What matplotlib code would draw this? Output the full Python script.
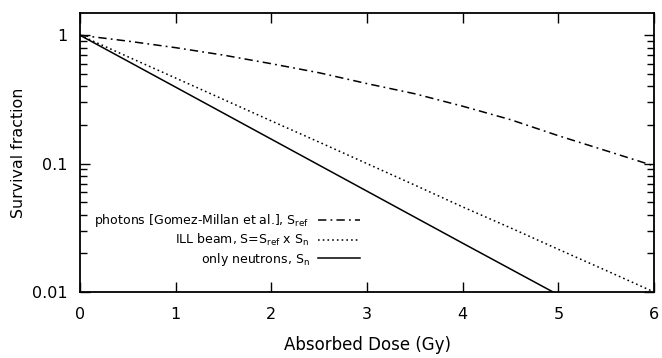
import numpy as np
import matplotlib.pyplot as plt
from matplotlib.ticker import FixedLocator, LogLocator, NullFormatter

# survival fractions read at each dose (Gy)
dose = [0, 0.5, 1, 1.5, 2, 2.5, 3, 3.5, 4, 4.5, 5, 5.5, 6]
s_ref = [1.0, 0.90, 0.80, 0.70, 0.60, 0.51, 0.42, 0.35, 0.28, 0.22, 0.165, 0.126, 0.096]
s_ill = [1.0, 0.68, 0.464, 0.316, 0.215, 0.147, 0.100, 0.068, 0.046, 0.0316, 0.0215, 0.0147, 0.0100]
dose_n = [0, 1, 2, 3, 4, 5]
s_n = [1.0, 0.394, 0.155, 0.061, 0.024, 0.0095]

xticks = [0, 1, 2, 3, 4, 5, 6]
yticks = [0.01, 0.1, 1]
yticklabels = ['0.01', '0.1', '1']

plt.rcParams['font.family'] = ['DejaVu Sans']
plt.rcParams['mathtext.default'] = 'regular'
plt.rcParams['lines.scale_dashes'] = False

fig = plt.figure(figsize=(6.62, 3.58), dpi=100)
ax = fig.add_axes([80/662, 1-292/358, 574/662, 279/358])

ax.plot(dose, s_ref, color='black', lw=1.1, dashes=(6, 3, 1.3, 3),
        label='photons [Gomez-Millan et al.], $S_{ref}$')
ax.plot(dose, s_ill, color='black', lw=1.1, dashes=(1.2, 2.2),
        label='ILL beam, S=$S_{ref}$ x $S_n$')
ax.plot(dose_n, s_n, color='black', lw=1.1,
        label='only neutrons, $S_n$')

ax.set_yscale('log')
ax.set_xlim(0, 6)
ax.set_ylim(0.01, 1.49)
ax.xaxis.set_major_locator(FixedLocator(xticks))
ax.yaxis.set_major_locator(FixedLocator(yticks))
ax.set_yticklabels(yticklabels)
ax.yaxis.set_minor_locator(LogLocator(base=10, subs=np.arange(2, 10)))
ax.yaxis.set_minor_formatter(NullFormatter())
ax.tick_params(which='both', direction='in', top=True, right=True,
               labelsize=11.5, width=1)
ax.tick_params(axis='x', pad=11)
ax.tick_params(axis='y', pad=9)
ax.tick_params(which='major', length=7)
ax.tick_params(which='minor', length=5)
for sp in ax.spines.values():
    sp.set_linewidth(1.3)

ax.set_xlabel('Absorbed Dose (Gy)', fontsize=12, labelpad=10)
ax.set_ylabel('Survival fraction', fontsize=11.4, labelpad=4)

ax.legend(loc='center right', bbox_to_anchor=(360/662, 1-240/358),
          bbox_transform=fig.transFigure, markerfirst=False, frameon=False,
          fontsize=9, handlelength=3.4, handletextpad=0.65,
          labelspacing=0.2, borderpad=0, borderaxespad=0)

fig.savefig('out.png', dpi=100)
